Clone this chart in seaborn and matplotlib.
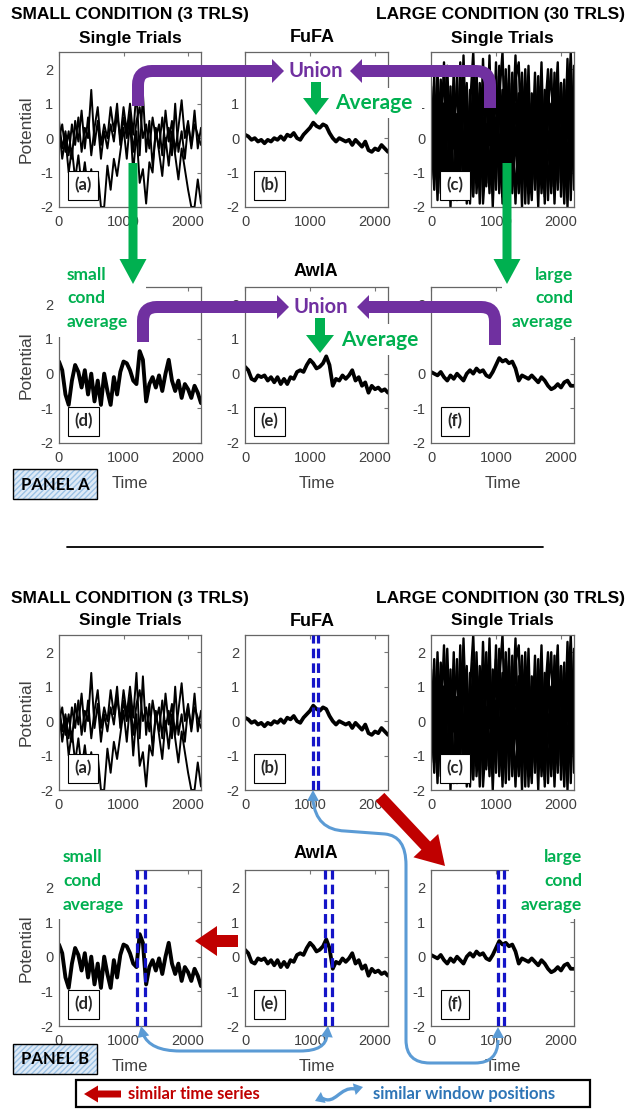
import matplotlib.pyplot as plt
import numpy as np
import pandas as pd
import seaborn as sns
from matplotlib.patches import PathPatch, Polygon, Rectangle
from matplotlib.path import Path

sns.set_style("white")
plt.rcParams["font.family"] = ["Liberation Sans", "DejaVu Sans"]
plt.rcParams["axes.unicode_minus"] = False

# sample times (ms)
TIME = list(range(0, 2201, 50))

# small condition single trials (3)
SMALL_TRIALS = [
    [0.5, -0.3, 0.2, -0.5, 0.4, -0.2, 0.6, -0.4, 0.3,
     0.0, 1.4, -0.2, 0.5, -0.6, 0.2, -0.3, 0.4, -0.1,
     0.7, 0.0, 0.9, 0.2, 1.0, 0.1, 1.4, -0.5, 1.3,
     -0.4, 0.5, -0.8, 0.2, -0.3, 0.6, -0.2, 0.3, -0.5,
     1.0, -0.4, 0.2, -0.6, 0.4, -0.2, 0.8, -0.3, 0.3],
    [0.3, -0.6, 0.0, -1.0, -0.3, -1.2, -0.5, -1.4, -0.7,
     -1.5, -0.9, -1.8, -1.0, -2.0, -2.0, -0.8, -1.5, -0.6,
     -1.1, -0.4, 0.3, -0.6, 0.5, -1.0, 0.2, -1.3, -0.9,
     -1.9, -0.7, -1.0, 0.3, -0.4, -1.1, 0.0, -0.8, 0.2,
     -0.5, -1.2, -0.3, -0.9, -1.5, -2.0, -2.0, -1.2, -1.9],
    [0.0, 0.4, -0.4, 0.2, -0.6, 0.5, -0.1, 0.8, -0.3,
     0.6, -0.5, 0.3, 0.9, -0.2, 0.4, 0.0, 0.9, 0.2,
     1.0, -0.2, 0.6, 0.0, 0.7, -0.4, 0.5, 0.9, 0.0,
     0.4, -0.3, 0.6, 0.0, 0.4, -0.5, 0.8, -0.1, 0.5,
     -0.4, 0.3, 1.1, 0.0, 0.5, -0.3, 0.4, 0.1, -0.2],
]

# large condition single trials (subset drawn)
LARGE_TRIALS = [
    [1.5, -1.2, 2.0, -0.8, 1.0, -1.5, 0.5, -0.3, 1.8,
     -1.0, 2.4, -0.5, 0.8, -1.6, 1.2, -0.2, 0.6, -1.3,
     1.6, -0.7, 2.2, -1.1, 0.9, -1.8, 1.4, 0.0, 2.4,
     -0.9, 1.0, -1.4, 0.4, -0.6, 1.9, -1.2, 0.7, -1.7,
     1.3, -0.4, 0.2, -1.5, 1.6, -0.8, 2.3, -1.0, 0.8],
    [-0.5, 1.0, -1.8, 0.6, -1.0, 1.4, -2.0, 0.9, -0.6,
     1.2, -1.4, 0.3, -1.9, 1.0, -0.8, 1.6, -1.2, 0.4,
     -1.6, 1.1, -0.3, 1.5, -1.9, 0.7, -1.0, 1.9, -0.5,
     0.8, -2.0, 1.3, -0.7, 1.0, -1.5, 0.5, -1.1, 1.4,
     -1.8, 0.6, -0.9, 1.7, -1.3, 0.9, -2.0, 1.2, -0.6],
    [0.8, -0.3, 1.2, -1.6, 0.4, 2.1, -0.7, 1.0, -1.3,
     0.2, 1.5, -1.9, 0.9, 2.5, -0.4, 1.1, -1.0, 2.0,
     -0.2, 0.7, -1.5, 1.2, 2.5, -0.6, 0.5, -1.2, 1.7,
     2.2, -0.8, 0.3, -1.6, 0.9, -0.1, 1.8, -0.9, 0.6,
     2.0, -1.4, 1.1, -0.5, 1.6, -1.1, 0.4, 2.5, -0.7],
    [-1.2, 0.3, -0.6, 1.7, -1.5, 0.2, 1.1, -1.8, 0.7,
     -0.4, 1.9, -1.1, 0.1, -1.7, 2.0, -0.9, 0.5, -1.4,
     0.8, -2.0, 0.6, -0.5, 1.4, -1.3, 2.1, -1.6, 0.3,
     -1.0, 1.5, -1.9, 1.2, -1.3, 0.6, -2.0, 1.5, -0.8,
     0.2, -1.6, 1.9, -1.0, 0.3, -1.9, 1.0, -1.2, 1.4],
    [1.0, 0.0, -1.0, 1.3, -0.5, -1.7, 0.8, 0.0, -0.9,
     1.6, -0.2, -1.3, 1.4, -0.6, 0.2, -1.1, 2.3, -0.4,
     -1.2, 1.5, -0.8, 0.1, -1.7, 1.8, 0.6, -1.4, -0.2,
     1.3, -1.2, 2.0, -0.5, -1.8, 1.2, -0.3, 2.2, -1.3,
     -0.6, 1.0, -1.9, 0.8, -0.4, 1.7, -1.5, 0.5, -1.0],
    [-0.2, 1.8, -1.4, 0.5, -0.1, -1.2, 1.5, -1.6, 0.3,
     -1.0, 0.9, 1.6, -1.7, 0.4, -1.3, 1.3, -1.9, -0.4,
     1.0, -0.9, 1.8, -1.6, 0.2, 1.0, -0.9, 0.4, -1.9,
     0.6, 1.9, -0.4, 1.2, 0.2, -1.2, 1.1, -1.6, 0.0,
     1.4, -1.0, 0.6, 2.2, -1.7, 0.5, -0.7, 1.6, -1.5],
    [0.4, -1.5, 0.9, -0.2, 2.2, -0.9, -0.3, 1.4, -1.1,
     2.2, -0.8, 0.6, -0.5, 1.7, -1.6, 0.0, 1.4, -0.6,
     2.4, -1.3, 0.3, 1.0, -1.0, 2.0, -1.7, 1.1, 0.0,
     -1.6, 0.8, -1.0, 2.1, -1.4, 0.3, -0.6, 1.0, -1.9,
     0.9, 2.0, -1.2, -0.1, 1.2, -0.5, 1.8, -1.8, 2.1],
    [-0.9, 0.6, 0.3, -1.1, 1.0, 0.6, -0.9, 2.0, -1.8,
     0.7, -1.6, 1.1, -0.9, -0.2, 1.0, -1.9, 1.1, 1.3,
     -1.0, 0.4, -0.6, 2.1, -0.7, -1.1, 1.6, -0.3, 1.0,
     -1.1, 0.4, 1.5, -1.9, 1.3, -0.9, 1.5, 0.1, -1.1,
     1.6, -0.4, -1.6, 1.3, -0.6, 1.4, -1.2, 0.9, -0.4],
]

FUFA = [0.10, 0.05, -0.05, 0.00, -0.10, -0.05, -0.15, -0.05, -0.10,
        0.00, -0.05, 0.05, -0.05, 0.10, 0.05, 0.15, 0.00, -0.05,
        0.10, 0.20, 0.30, 0.45, 0.35, 0.30, 0.40, 0.35, 0.15,
        0.00, -0.10, 0.00, -0.05, -0.10, -0.05, -0.20, -0.05, -0.15,
        -0.25, -0.10, -0.35, -0.40, -0.30, -0.35, -0.20, -0.30, -0.40]

AWIA = [0.20, 0.10, -0.15, -0.20, -0.05, -0.10, -0.05, -0.20, -0.10,
        -0.25, -0.10, -0.30, -0.15, -0.30, -0.10, -0.15, 0.05, 0.10,
        0.05, 0.25, 0.40, 0.30, 0.15, 0.20, 0.30, 0.50, 0.25,
        -0.35, -0.15, -0.20, -0.05, -0.15, -0.05, 0.10, -0.20, -0.10,
        -0.35, -0.25, -0.55, -0.35, -0.45, -0.40, -0.50, -0.45, -0.55]

SMALL_AVG = [0.35, 0.10, -0.60, -0.90, -0.20, 0.25, 0.05, -0.40, 0.10,
             -0.60, 0.00, -0.80, -0.20, -0.90, 0.00, -0.50, -0.90, -0.10,
             -0.60, 0.05, 0.35, 0.30, 0.10, -0.20, -0.30, 0.65, 0.40,
             -0.80, -0.30, -0.10, -0.40, -0.05, -0.50, 0.00, 0.40, -0.20,
             -0.50, -0.20, -0.70, -0.30, -0.45, -0.70, -0.35, -0.55, -0.85]

LARGE_AVG = [0.05, 0.00, -0.05, 0.05, -0.10, -0.20, -0.05, -0.15, 0.00,
             -0.10, -0.20, 0.00, 0.10, 0.00, 0.15, 0.05, 0.10, -0.05,
             -0.10, 0.05, 0.25, 0.45, 0.35, 0.40, 0.30, 0.35, 0.15,
             -0.20, -0.05, -0.10, -0.15, -0.05, -0.15, -0.25, -0.10, -0.20,
             -0.35, -0.45, -0.40, -0.30, -0.40, -0.25, -0.20, -0.35, -0.35]

# analysis window edges shown in panel B
WIN_FUFA = [1040, 1130]
WIN_SMALL = [1210, 1330]
WIN_AWIA = [1225, 1345]
WIN_LARGE = [1025, 1130]

PURPLE = "#7030A0"
GREEN = "#00B050"
RED = "#C00000"
LBLUE = "#5B9BD5"
DASH = "#1414C8"
TICK = "#404040"
CAL = ["Lato", "DejaVu Sans"]

W, H = 636, 1109
fig = plt.figure(figsize=(W / 100, H / 100), dpi=100)


def long_df(trials):
    parts = [pd.DataFrame({"time": TIME, "value": tr, "trial": i}) for i, tr in enumerate(trials)]
    return pd.concat(parts, ignore_index=True)


def panel(left, top, right, bottom, trials, lw, tag, window=None, ylabel=False, xlabel=False):
    ax = fig.add_axes([left / W, 1 - bottom / H, (right - left) / W, (bottom - top) / H])
    sns.lineplot(data=long_df(trials), x="time", y="value", units="trial", estimator=None,
                 color="black", linewidth=lw, ax=ax, legend=False)
    if window:
        for w in window:
            ax.axvline(w, color=DASH, lw=2.3, ls=(0, (3, 1.6)), zorder=3)
    ax.set(xlim=(0, 2200), ylim=(-2, 2.5), xticks=[0, 1000, 2000], yticks=[-2, -1, 0, 1, 2],
           xlabel="", ylabel="")
    ax.tick_params(direction="in", top=True, right=True, length=3, width=0.8, color="#777777",
                   labelsize=10.5, labelcolor=TICK)
    ax.tick_params(axis="x", pad=6)
    ax.tick_params(axis="y", pad=4)
    for s in ax.spines.values():
        s.set_color("#666666")
        s.set_linewidth(0.9)
    ax.text(0.17, 0.14, tag, transform=ax.transAxes, ha="center", va="center", fontsize=12,
            fontweight="bold", family=CAL, zorder=5,
            bbox=dict(boxstyle="square,pad=0.38", fc="white", ec="black", lw=0.8))
    if ylabel:
        ax.set_ylabel("Potential", fontsize=12.5, color=TICK)
        ax.yaxis.set_label_coords(-0.18, 0.5)
    if xlabel:
        ax.set_xlabel("Time", fontsize=12, color=TICK)
        ax.xaxis.set_label_coords(0.5, -0.21)
    return ax


for off, is_b in ((0, False), (583, True)):
    panel(59, 52 + off, 201, 207 + off, SMALL_TRIALS, 1.4, "(a)", ylabel=True)
    panel(245, 52 + off, 388, 207 + off, [FUFA], 2.7, "(b)", window=WIN_FUFA if is_b else None)
    panel(431, 52 + off, 574, 207 + off, LARGE_TRIALS, 1.7, "(c)")
    panel(59, 287 + off, 201, 443 + off, [SMALL_AVG], 2.8, "(d)",
          window=WIN_SMALL if is_b else None, ylabel=True, xlabel=True)
    panel(245, 287 + off, 388, 443 + off, [AWIA], 2.7, "(e)",
          window=WIN_AWIA if is_b else None, xlabel=True)
    panel(431, 287 + off, 574, 443 + off, [LARGE_AVG], 2.7, "(f)",
          window=WIN_LARGE if is_b else None, xlabel=True)

# overlay in pixel coordinates (y down) for titles and diagram arrows
ov = fig.add_axes([0, 0, 1, 1])
ov.set_xlim(0, W)
ov.set_ylim(H, 0)
ov.axis("off")
ov.set_zorder(10)
ov.patch.set_alpha(0)


def txt(x, y, s, size, color="black", family=None, ha="center", va="center"):
    ov.text(x, y, s, fontsize=size, color=color, fontweight="bold", ha=ha, va=va,
            family=family or ["Liberation Sans", "DejaVu Sans"], zorder=6)


def white(x, y, w, h):
    ov.add_patch(Rectangle((x, y), w, h, fc="white", ec="none", zorder=2))


def block_arrow(tail, tip, shaft, head_w, head_l, color):
    t = np.array(tail, float)
    p = np.array(tip, float)
    d = (p - t) / np.linalg.norm(p - t)
    n = np.array([-d[1], d[0]])
    b = p - d * head_l
    pts = [t + n * shaft / 2, b + n * shaft / 2, b + n * head_w / 2, p,
           b - n * head_w / 2, b - n * shaft / 2, t - n * shaft / 2]
    ov.add_patch(Polygon(pts, closed=True, fc=color, ec="none", zorder=4))


def head(tip, frm, length, hw, color):
    p = np.array(tip, float)
    d = p - np.array(frm, float)
    d /= np.linalg.norm(d)
    n = np.array([-d[1], d[0]])
    b = p - d * length
    ov.add_patch(Polygon([p, b + n * hw, b - n * hw], closed=True, fc=color, ec="none", zorder=5))


def bent_arrow(x0, y0, yc, xt, color, shaft=12, head_hw=12, head_l=12, r=14):
    s = np.sign(xt - x0)
    base = xt - s * head_l
    verts = [(x0, y0), (x0, yc + r), (x0, yc), (x0 + s * r, yc), (base + s, yc)]
    codes = [Path.MOVETO, Path.LINETO, Path.CURVE3, Path.CURVE3, Path.LINETO]
    ov.add_patch(PathPatch(Path(verts, codes), fill=False, ec=color, lw=shaft * 0.72,
                           capstyle="butt", zorder=4))
    head((xt, yc), (base, yc), head_l, head_hw, color)


def curve(verts, codes, color, lw=2.2):
    ov.add_patch(PathPatch(Path(verts, codes), fill=False, ec=color, lw=lw, zorder=4))


M, L, C3, C4 = Path.MOVETO, Path.LINETO, Path.CURVE3, Path.CURVE4

# ---- titles for both panels
for off in (0, 583):
    txt(130, 15 + off, "SMALL CONDITION (3 TRLS)", 12.5)
    txt(500, 15 + off, "LARGE CONDITION (30 TRLS)", 12.5)
    txt(130, 38 + off, "Single Trials", 12.5)
    txt(312, 38 + off, "FuFA", 13)
    txt(502, 38 + off, "Single Trials", 12.5)
    txt(316, 271 + off, "AwIA", 13)

# ---- panel A diagram
white(329, 88, 93, 30)
white(335, 324, 93, 31)
white(55, 262, 91, 75)
white(502, 262, 84, 75)

bent_arrow(138, 106, 71, 284, PURPLE)
bent_arrow(490, 108, 71, 350, PURPLE)
txt(316, 71, "Union", 14.5, PURPLE, CAL)
block_arrow((316, 82), (316, 115), 10, 26, 17, GREEN)
txt(374, 103, "Average", 15, GREEN, CAL)
block_arrow((133, 163), (133, 284), 9, 27, 25, GREEN)
block_arrow((507, 163), (507, 284), 9, 27, 25, GREEN)

bent_arrow(143, 342, 307, 289, PURPLE)
bent_arrow(495, 345, 307, 357, PURPLE)
txt(321, 307, "Union", 14.5, PURPLE, CAL)
block_arrow((320, 318), (320, 353), 10, 28, 18, GREEN)
txt(380, 340, "Average", 15, GREEN, CAL)

for y, s in zip((275, 298, 322), ("small", "cond", "average")):
    txt(67, y, s, 12.5, GREEN, CAL, ha="left")
for y, s in zip((275, 298, 322), ("large", "cond", "average")):
    txt(573, y, s, 12.5, GREEN, CAL, ha="right")

for y0 in (469, 1044):
    ov.add_patch(Rectangle((13, y0), 84, 30, fc="#dfeaf6", ec="#9dc3e6", lw=0,
                           hatch="//////", zorder=5))
    ov.add_patch(Rectangle((13, y0), 84, 30, fill=False, ec="black", lw=1.0, zorder=6))
txt(55, 485, "PANEL A", 12, "black", CAL)
txt(55, 1059, "PANEL B", 12, "black", CAL)

ov.plot([67, 543], [547, 547], color="black", lw=1.3)

# ---- panel B diagram
white(55, 843, 80, 76)
white(509, 843, 83, 76)
for y, s in zip((857, 881, 905), ("small", "cond", "average")):
    txt(63, y, s, 12.5, GREEN, CAL, ha="left")
for y, s in zip((857, 881, 905), ("large", "cond", "average")):
    txt(582, y, s, 12.5, GREEN, CAL, ha="right")

block_arrow((380, 797), (445, 866), 12, 34, 28, RED)
block_arrow((238, 941), (195, 941), 12, 30, 22, RED)

curve([(313, 800), (316, 830), (345, 831), (385, 834), (406, 836), (406, 865),
       (406, 1040), (406, 1063), (430, 1063), (475, 1063), (498, 1063), (498, 1040)],
      [M, C3, C3, L, C3, C3, L, C3, C3, L, C3, C3], LBLUE)
head((313, 790), (313, 800), 11, 6, LBLUE)
head((498, 1027), (498, 1040), 11, 6, LBLUE)

curve([(143, 1034), (150, 1051), (180, 1051), (300, 1051), (326, 1051), (327, 1035)],
      [M, C3, C3, L, C3, C3], LBLUE)
head((141, 1026), (143, 1035), 11, 6, LBLUE)
head((328, 1026), (327, 1035), 11, 6, LBLUE)

# ---- legend strip
ov.add_patch(Rectangle((76, 1080), 514, 27, fill=False, ec="black", lw=1.6, zorder=6))
block_arrow((121, 1094), (84, 1094), 7, 17, 14, RED)
txt(128, 1094, "similar time series", 12, RED, CAL, ha="left")
curve([(322, 1098), (335, 1106), (340, 1086), (355, 1089)], [M, C4, C4, C4], LBLUE, lw=2.4)
head((315, 1101), (322, 1098), 9, 6, LBLUE)
head((363, 1087), (355, 1089), 9, 6, LBLUE)
txt(373, 1094, "similar window positions", 12, "#2E75B6", CAL, ha="left")

fig.savefig("out.png", dpi=100)
plt.close(fig)
